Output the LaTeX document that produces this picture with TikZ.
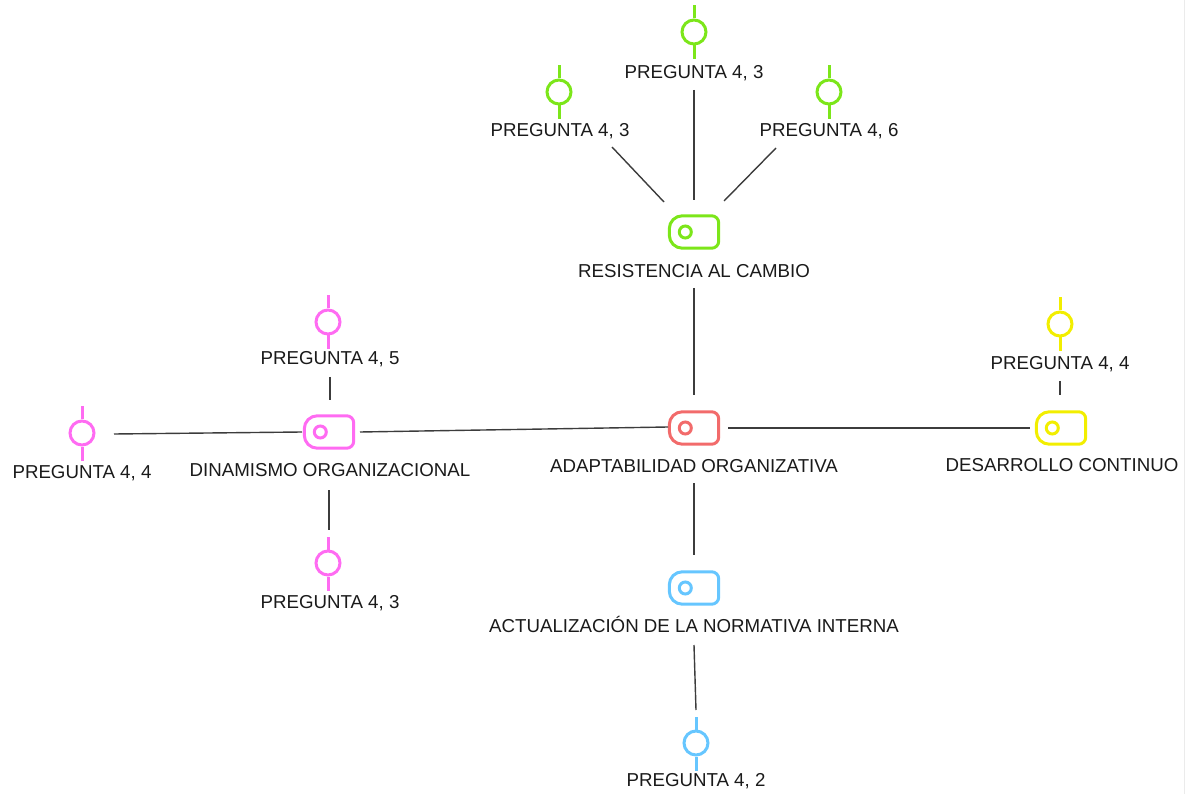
\documentclass[tikz,border=0pt]{standalone}
\usepackage{fontspec}
\setmainfont{Liberation Sans}
\definecolor{cgreen}{HTML}{7CE61A}
\definecolor{cpink}{HTML}{FF6BF2}
\definecolor{cyellow}{HTML}{F2EE00}
\definecolor{cred}{HTML}{F26B6B}
\definecolor{cblue}{HTML}{66C6FF}
\definecolor{ctext}{HTML}{1A1A1A}
\definecolor{cline}{HTML}{3C3C3C}
\tikzset{
  lbl/.style={inner sep=0pt, text height=13.5pt, text depth=0pt, text=ctext,
              font=\fontsize{18.7pt}{20pt}\selectfont},
  hubbox/.style={rectangle, inner sep=0pt, minimum width=49pt, minimum height=32pt},
  leafdot/.style={circle, inner sep=0pt, minimum size=24pt, draw=#1, line width=3pt},
  link/.style={draw=cline, line width=1.4pt},
}
% hub icon: tag-like box, rounder on the left, with a small ring inside
\newcommand{\hubicon}[2]{%
  \draw[#2, line width=3pt, rounded corners=13pt]
    (#1.north) -- (#1.north west) -- (#1.south west) -- (#1.south)
    [rounded corners=7pt] -- (#1.south east) -- (#1.north east) -- cycle;
  \draw[#2, line width=3pt] ([xshift=16pt]#1.west) circle[radius=6pt];
}
% leaf icon stems above and below the ring
\newcommand{\leafstems}[2]{%
  \draw[#2, line width=3pt] (#1.north) -- ++(0,-13);
  \draw[#2, line width=3pt] (#1.south) -- ++(0,14);
}
\begin{document}
\begin{tikzpicture}[x=1pt, y=-1pt]
\useasboundingbox (0,0) rectangle (1187,794);
\draw[black!8, line width=0.8pt] (1184.5,0) -- (1184.5,794);

% hubs
\node[hubbox] (G) at (694,232) {};
\node[hubbox] (R) at (694,428) {};
\node[hubbox] (P) at (329,432) {};
\node[hubbox] (Y) at (1061,428) {};
\node[hubbox] (B) at (694,588) {};
\hubicon{G}{cgreen}
\hubicon{R}{cred}
\hubicon{P}{cpink}
\hubicon{Y}{cyellow}
\hubicon{B}{cblue}

\node[lbl] (Glab) at (694,271) {RESISTENCIA AL CAMBIO};
\node[lbl] (Rlab) at (694,466) {ADAPTABILIDAD ORGANIZATIVA};
\node[lbl] (Plab) at (330,470) {DINAMISMO ORGANIZACIONAL};
\node[lbl] (Ylab) at (1062,465) {DESARROLLO CONTINUO};
\node[lbl] (Blab) at (694,626) {ACTUALIZACIÓN DE LA NORMATIVA INTERNA};

% leaves
\node[leafdot=cgreen] (g1) at (694,32) {};
\node[leafdot=cgreen] (g2) at (559,92) {};
\node[leafdot=cgreen] (g3) at (829,92) {};
\node[leafdot=cpink] (p1) at (328,322) {};
\node[leafdot=cpink] (p2) at (82,433) {};
\node[leafdot=cpink] (p3) at (328,563) {};
\node[leafdot=cyellow] (y1) at (1060,324) {};
\node[leafdot=cblue] (b1) at (696,743) {};
\leafstems{g1}{cgreen}
\leafstems{g2}{cgreen}
\leafstems{g3}{cgreen}
\leafstems{p1}{cpink}
\leafstems{p2}{cpink}
\leafstems{p3}{cpink}
\leafstems{y1}{cyellow}
\leafstems{b1}{cblue}

\node[lbl] (g1lab) at (694,72) {PREGUNTA 4, 3};
\node[lbl] (g2lab) at (560,130) {PREGUNTA 4, 3};
\node[lbl] (g3lab) at (829,130) {PREGUNTA 4, 6};
\node[lbl] (p1lab) at (330,358) {PREGUNTA 4, 5};
\node[lbl] (p2lab) at (82,472) {PREGUNTA 4, 4};
\node[lbl] (p3lab) at (330,602) {PREGUNTA 4, 3};
\node[lbl] (y1lab) at (1060,363) {PREGUNTA 4, 4};
\node[lbl] (b1lab) at (696,780) {PREGUNTA 4, 2};

% connectors
\draw[link] ([shift={(0,18)}]g1lab.center) -- ([shift={(0,-32)}]G.center);
\draw[link] ([shift={(52,17)}]g2lab.center) -- ([shift={(-30,-30)}]G.center);
\draw[link] ([shift={(-53,18)}]g3lab.center) -- ([shift={(30,-31)}]G.center);
\draw[link] ([shift={(0,17)}]Glab.center) -- ([shift={(0,-33)}]R.center);
\draw[link] ([shift={(-26,-1)}]R.center) -- ([shift={(31,0)}]P.center);
\draw[link] ([shift={(-27,0)}]P.center) -- ([shift={(32,1)}]p2.center);
\draw[link] ([shift={(0,19)}]p1lab.center) -- ([shift={(1,-32)}]P.center);
\draw[link] ([shift={(-1,20)}]Plab.center) -- ([shift={(1,-33)}]p3.center);
\draw[link] ([shift={(34,0)}]R.center) -- ([shift={(-31,0)}]Y.center);
\draw[link] ([shift={(0,18)}]y1lab.center) -- ([shift={(-1,-33)}]Y.center);
\draw[link] ([shift={(0,17)}]Rlab.center) -- ([shift={(0,-33)}]B.center);
\draw[link] ([shift={(0,19)}]Blab.center) -- ([shift={(0,-33)}]b1.center);
\end{tikzpicture}
\end{document}
